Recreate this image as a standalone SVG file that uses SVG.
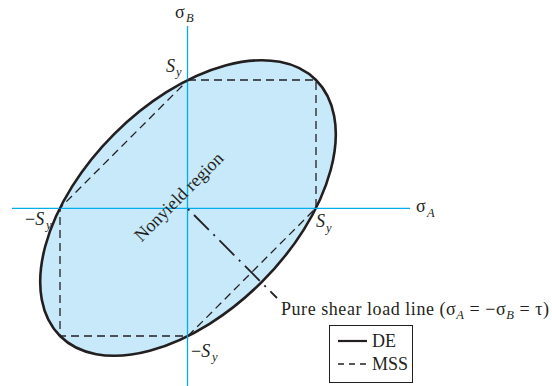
<svg xmlns="http://www.w3.org/2000/svg" width="552" height="386" viewBox="0 0 552 386">
<style>
.t{font-family:"Liberation Serif","Times New Roman",serif;font-size:18px;fill:#231f20}
.i{font-style:italic}
.sub{font-family:"Liberation Serif","Times New Roman",serif;font-size:12.5px;font-style:italic;fill:#231f20}
.axis{stroke:#00aeef;stroke-width:1.3;fill:none}
.dash{stroke:#231f20;stroke-width:1.3;fill:none;stroke-dasharray:8 5}
</style>
<rect width="552" height="386" fill="#ffffff"/>
<g id="de-ellipse">
<ellipse cx="188" cy="208" rx="181" ry="104.5" transform="rotate(-45 188 208)" fill="#c7e9f9" stroke="#231f20" stroke-width="2.6"/>
</g>
<g id="axes">
<line class="axis" x1="12" y1="208.3" x2="410" y2="208.3"/>
<line class="axis" x1="187.5" y1="26" x2="187.5" y2="386"/>
</g>
<g id="mss-hexagon">
<path class="dash" d="M188 80 H316 V208 L188 336 H60 V208 Z"/>
</g>
<g id="connectors">
<line x1="188" y1="209" x2="277" y2="298" stroke="#231f20" stroke-width="1.8" stroke-dasharray="2 6.5 21 6.5"/>
</g>
<g id="label-nonyield">
<text class="t" x="183" y="201" text-anchor="middle" transform="rotate(-45 183 201)">Nonyield region</text>
</g>
<g id="labels">
<text class="t" x="175" y="18">σ</text><text class="sub" x="186" y="22">B</text>
<text class="t i" x="166" y="72">S</text><text class="sub" x="176" y="76">y</text>
<text class="t" x="25" y="225">−<tspan class="i">S</tspan></text><text class="sub" x="46" y="229">y</text>
<text class="t i" x="316" y="227">S</text><text class="sub" x="326" y="232">y</text>
<text class="t" x="416" y="212">σ</text><text class="sub" x="427" y="217">A</text>
<text class="t" x="191" y="357">−<tspan class="i">S</tspan></text><text class="sub" x="212" y="361">y</text>
</g>
<g id="label-shear">
<text class="t" x="281" y="315" textLength="268" lengthAdjust="spacing">Pure shear load line (σ<tspan class="sub" dy="4">A</tspan><tspan dy="-4"> = −σ</tspan><tspan class="sub" dy="4">B</tspan><tspan dy="-4"> = τ)</tspan></text>
</g>
<g id="legend">
<rect x="329.5" y="325.5" width="83" height="57" fill="#ffffff" stroke="#231f20" stroke-width="1"/>
<line x1="338" y1="341" x2="367" y2="341" stroke="#231f20" stroke-width="2.2"/>
<text class="t" x="372" y="347">DE</text>
<line x1="338" y1="364" x2="367" y2="364" stroke="#231f20" stroke-width="1.3" stroke-dasharray="6 5"/>
<text class="t" x="372" y="370">MSS</text>
</g>
</svg>
